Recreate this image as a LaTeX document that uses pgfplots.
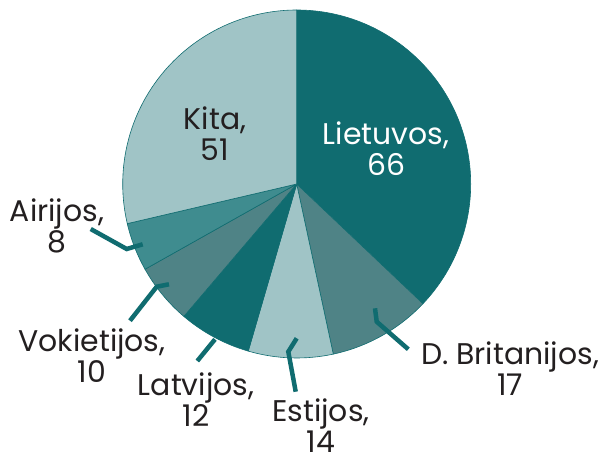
\documentclass[border=0pt]{standalone}
\usepackage{pgfplots}
\pgfplotsset{compat=1.18}
\usepackage{pgfplotstable}
\usepackage{fontspec}
\setmainfont{Poppins}
\definecolor{cDark}{HTML}{106C70}
\definecolor{cMid}{HTML}{4F8386}
\definecolor{cLight}{HTML}{A0C4C6}
\definecolor{cAir}{HTML}{3F8C8F}
\definecolor{cText}{HTML}{231F20}
\pgfplotstableread{
name value color
Lietuvos 66 cDark
DBritanijos 17 cMid
Estijos 14 cLight
Latvijos 12 cDark
Vokietijos 10 cMid
Airijos 8 cAir
Kita 51 cLight
}\piedata
\begin{document}
\def\total{0}%
\pgfplotsforeachungrouped \i in {0,...,6}{%
  \pgfplotstablegetelem{\i}{value}\of\piedata
  \pgfmathsetmacro\total{\total+\pgfplotsretval}%
}%
\def\ang{90}%
\pgfplotsforeachungrouped \i in {0,...,6}{%
  \pgfplotstablegetelem{\i}{value}\of\piedata
  \pgfmathsetmacro\sweep{\pgfplotsretval/\total*360}%
  \expandafter\xdef\csname startA\i\endcsname{\ang}%
  \pgfmathsetmacro\ang{\ang-\sweep}%
  \expandafter\xdef\csname endA\i\endcsname{\ang}%
  \pgfplotstablegetelem{\i}{color}\of\piedata
  \colorlet{pieC\i}{\pgfplotsretval}%
}%
\begin{tikzpicture}
\begin{axis}[width=603bp,height=454bp,scale only axis,
  xmin=0,xmax=603,ymin=0,ymax=454,y dir=reverse,
  hide axis,clip=false]
\path (rel axis cs:0,0) rectangle (rel axis cs:1,1);
\pgfplotsinvokeforeach{0,...,6}{%
  \filldraw[fill=pieC#1,draw=cDark,line width=0.6bp,line join=round]
    (axis cs:296.7,184) -- ++(\csname startA#1\endcsname:174bp)
    arc[start angle=\csname startA#1\endcsname,end angle=\csname endA#1\endcsname,radius=174bp] -- cycle;
}
\begin{scope}[cDark,line width=4.5bp]
\draw (axis cs:142.7,244.3) -- (axis cs:126.7,249) -- (axis cs:90.7,229);
\draw (axis cs:169,284.3) -- (axis cs:156.7,286.7) -- (axis cs:130,320.7);
\draw (axis cs:215,339.3) -- (axis cs:197.3,361);
\draw (axis cs:296.7,338.3) -- (axis cs:288.3,351.7) -- (axis cs:295.7,391.7);
\draw (axis cs:375,308.3) -- (axis cs:376.7,321.7) -- (axis cs:408.3,349.3);
\end{scope}
\begin{scope}[every node/.style={align=center,font=\fontsize{30}{31}\selectfont,text=cText,inner sep=0pt}]
\node[text=white] at (axis cs:386,149) {Lietuvos,\\66};
\node at (axis cs:215,134) {Kita,\\51};
\node at (axis cs:57,226) {Airijos,\\8};
\node at (axis cs:92,356) {Vokietijos,\\10};
\node at (axis cs:196,400) {Latvijos,\\12};
\node at (axis cs:321,426) {Estijos,\\14};
\node at (axis cs:510,369) {D. Britanijos,\\17};
\end{scope}
\end{axis}
\end{tikzpicture}
\end{document}
